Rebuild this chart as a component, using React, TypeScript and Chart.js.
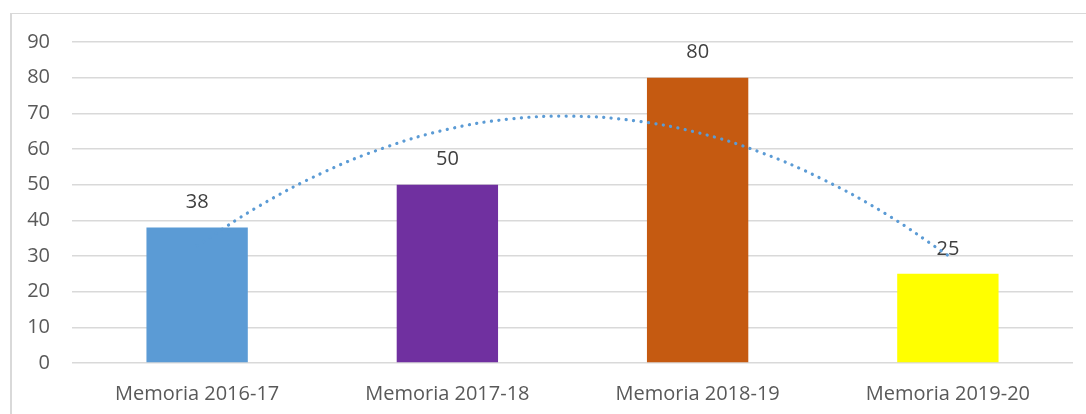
import React, { useEffect, useRef } from "react";
import { Chart, registerables } from "chart.js";

Chart.register(...registerables);

const categories = ["Memoria 2016-17", "Memoria 2017-18", "Memoria 2018-19", "Memoria 2019-20"];
const values = [38, 50, 80, 25];
const barColors = ["#5B9BD5", "#7030A0", "#C55A11", "#FFFF00"];
const trendX = [1, 1.25, 1.5, 1.75, 2, 2.25, 2.5, 2.75, 3, 3.25, 3.5, 3.75, 4];
const trendY = [32.9, 44.1, 53.3, 60.4, 65.5, 68.4, 69.2, 67.9, 64.6, 59.1, 51.5, 41.9, 30.2];
const yTicks = [0, 10, 20, 30, 40, 50, 60, 70, 80, 90];

const FONT = "'Open Sans', sans-serif";

const labelPlugin = {
  id: "barLabels",
  afterDatasetDraw(chart: any, args: any) {
    if (args.index !== 0) return;
    const ctx = chart.ctx;
    ctx.save();
    ctx.font = `20px ${FONT}`;
    ctx.fillStyle = "#404040";
    ctx.textAlign = "center";
    ctx.textBaseline = "middle";
    args.meta.data.forEach((bar: any, i: number) => {
      ctx.fillText(String(values[i]), bar.x, bar.y - 25);
    });
    ctx.restore();
  },
};

export default function App() {
  const ref = useRef<HTMLCanvasElement>(null);
  useEffect(() => {
    if (!ref.current) return;
    const chart = new Chart(ref.current, {
      type: "bar",
      data: {
        labels: categories,
        datasets: [
          {
            type: "bar",
            data: values,
            backgroundColor: barColors,
            categoryPercentage: 1,
            barPercentage: 0.405,
            grouped: false,
            order: 1,
            xAxisID: "x",
          } as any,
          {
            type: "line",
            data: trendX.map((x, i) => ({ x, y: trendY[i] })),
            borderColor: "#5B9BD5",
            borderWidth: 3.2,
            borderDash: [0.1, 7.4],
            borderCapStyle: "round",
            pointRadius: 0,
            tension: 0.4,
            fill: false,
            order: 0,
            xAxisID: "x2",
          } as any,
        ],
      },
      options: {
        responsive: false,
        animation: false,
        layout: { padding: { left: 0, right: 13, top: 42, bottom: 0 } },
        plugins: { legend: { display: false }, tooltip: { enabled: false } },
        scales: {
          x: {
            type: "category",
            grid: { display: false },
            border: { display: false },
            ticks: { font: { family: FONT, size: 20 }, color: "#595959", padding: 11 },
            afterFit(scale: any) {
              scale.height = 51;
            },
          },
          x2: {
            type: "linear",
            min: 0.5,
            max: 4.5,
            offset: false,
            display: false,
          },
          y: {
            min: 0,
            max: 90,
            afterBuildTicks(scale: any) {
              scale.ticks = yTicks.map((v) => ({ value: v }));
            },
            grid: { color: "#D9D9D9", lineWidth: 1.5, drawTicks: false },
            border: { display: false },
            ticks: { font: { family: FONT, size: 20 }, color: "#595959", padding: 22 },
            afterFit(scale: any) {
              scale.width = 72;
            },
          },
        },
      },
      plugins: [labelPlugin],
    });
    return () => chart.destroy();
  }, []);
  return (
    <div style={{ position: "absolute", left: 0, top: 0, width: 1086, height: 414, background: "#fff" }}>
      <div
        style={{
          position: "absolute",
          left: 10,
          top: 13,
          width: 1090,
          height: 420,
          borderTop: "1px solid #D9D9D9",
          borderLeft: "2px solid #D9D9D9",
          boxSizing: "border-box",
        }}
      />
      <canvas ref={ref} width={1086} height={414} style={{ position: "absolute", left: 0, top: 0 }} />
    </div>
  );
}
